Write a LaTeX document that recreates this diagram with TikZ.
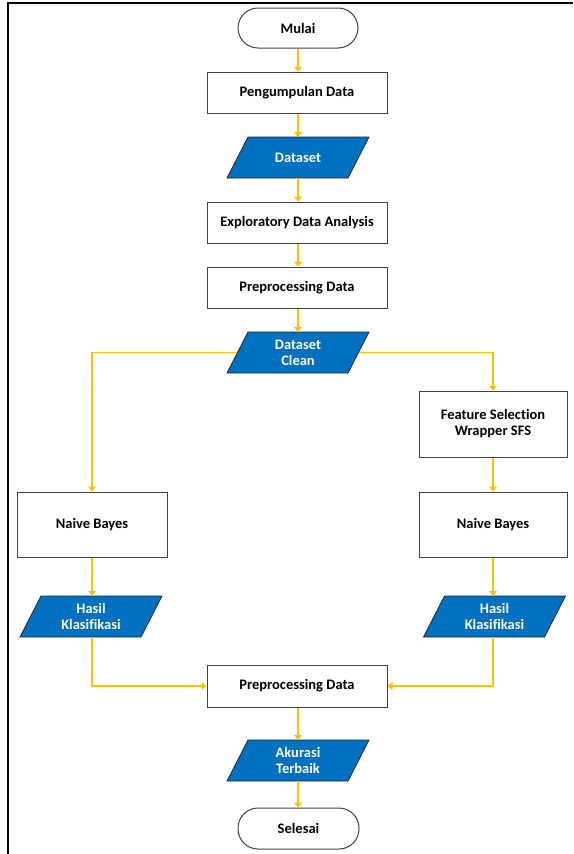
\documentclass[tikz,border=0pt]{standalone}
\usepackage{fontspec}
\setmainfont{Carlito}[Ligatures={NoCommon}]
\usetikzlibrary{arrows.meta}
\definecolor{flowblue}{HTML}{0070C0}
\definecolor{flowyel}{HTML}{FFC000}
\definecolor{edgegray}{HTML}{404040}
\newcommand{\ioshape}[4]{%
  \draw[draw=black!85, fill=flowblue, line width=0.8pt]
    (#2-50,#3-20.5) -- (#2+71,#3-20.5) -- (#2+50,#3+20.5) -- (#2-71,#3+20.5) -- cycle;
  \node[iotext] (#1) at (#2,#3) {#4};}
\begin{document}
\begin{tikzpicture}[x=1pt,y=-1pt,
  every node/.style={font=\fontsize{14.5}{16}\selectfont\bfseries, align=center, inner sep=0pt},
  proc/.style={draw=edgegray, line width=1pt, fill=white, minimum width=180pt, minimum height=41pt},
  term/.style={draw=edgegray, line width=1pt, rounded corners=20pt, minimum width=120pt, minimum height=40pt},
  iotext/.style={text=white, minimum width=121pt, minimum height=41pt},
  flow/.style={draw=flowyel, line width=1.2pt, -{Triangle[width=8pt,length=5pt]}}]
\useasboundingbox (0,0) rectangle (573,854);
\draw[line width=2.8pt] (573,3) -- (8,3) -- (8,854);

\node[term] (mulai) at (298,28) {Mulai};
\node[proc] (peng) at (297,92.5) {Pengumpulan Data};
\ioshape{ds}{298}{157.5}{Dataset}
\node[proc] (eda) at (297,222.5) {Exploratory Data Analysis};
\node[proc] (pre1) at (297,287.5) {Preprocessing Data};
\ioshape{dsc}{298}{352.5}{Dataset\\Clean}
\node[proc, minimum width=148pt, minimum height=66pt] (fs) at (493,424) {Feature Selection\\Wrapper SFS};
\node[proc, minimum width=150pt, minimum height=65pt] (nbl) at (92,524.5) {Naive Bayes};
\node[proc, minimum width=148pt, minimum height=65pt] (nbr) at (493,524.5) {Naive Bayes};
\ioshape{hkl}{91}{616.5}{Hasil\\Klasifikasi}
\ioshape{hkr}{494.5}{616.5}{Hasil\\Klasifikasi}
\node[proc, minimum height=42pt] (pre2) at (297,686) {Preprocessing Data};
\ioshape{akt}{298}{760.5}{Akurasi\\Terbaik}
\node[term, minimum width=121pt, minimum height=41pt] (sel) at (298.5,828.5) {Selesai};

\draw[flow] (mulai.south) -- (peng.north -| mulai.south);
\draw[flow] (peng.south -| ds.north) -- (ds.north);
\draw[flow] (ds.south) -- (eda.north -| ds.south);
\draw[flow] (eda.south -| ds.south) -- (pre1.north -| ds.south);
\draw[flow] (pre1.south -| dsc.north) -- (dsc.north);
\draw[flow] (dsc.west) -| (nbl.north);
\draw[flow] (dsc.east) -| (fs.north);
\draw[flow] (fs.south) -- (nbr.north);
\draw[flow] (nbl.south) -- (hkl.north -| nbl.south);
\draw[flow] (nbr.south) -- (hkr.north -| nbr.south);
\draw[flow] (hkl.south -| nbl.south) |- (pre2.west);
\draw[flow] (hkr.south -| nbr.south) |- (pre2.east);
\draw[flow] (pre2.south -| akt.north) -- (akt.north);
\draw[flow] (akt.south) -- (sel.north -| akt.south);
\end{tikzpicture}
\end{document}
